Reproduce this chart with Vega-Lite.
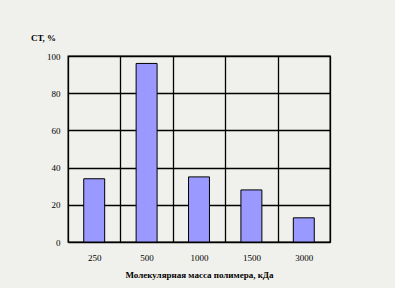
{
  "$schema": "https://vega.github.io/schema/vega-lite/v6.json",
  "autosize": "none",
  "width": 262,
  "height": 186,
  "padding": {"left": 68, "top": 56, "right": 65, "bottom": 46},
  "background": "#f0f1ec",
  "config": {
    "view": {"stroke": "black", "strokeWidth": 1.3},
    "font": "Liberation Serif"
  },
  "data": {
    "values": [
      {"mass": "250", "ct": 34},
      {"mass": "500", "ct": 96},
      {"mass": "1000", "ct": 35},
      {"mass": "1500", "ct": 28},
      {"mass": "3000", "ct": 13}
    ]
  },
  "mark": {"type": "bar", "fill": "#9999ff", "stroke": "black", "strokeWidth": 1, "width": {"band": 0.4}},
  "encoding": {
    "x": {
      "field": "mass",
      "type": "ordinal",
      "sort": null,
      "scale": {"paddingInner": 0, "paddingOuter": 0},
      "axis": {
        "title": "Молекулярная масса полимера, кДа",
        "titleFont": "Liberation Serif",
        "titleFontSize": 9,
        "titleFontWeight": "bold",
        "titleColor": "black",
        "titleBaseline": "middle",
        "titleY": 32,
        "labelAngle": 0,
        "labelFont": "Liberation Serif",
        "labelFontSize": 9,
        "labelColor": "black",
        "labelPadding": 11,
        "ticks": false,
        "domain": false,
        "grid": true,
        "tickBand": "extent",
        "gridColor": "black",
        "gridWidth": 1.3,
        "gridOpacity": 1
      }
    },
    "y": {
      "field": "ct",
      "type": "quantitative",
      "scale": {"domain": [0, 100], "nice": false},
      "axis": {
        "title": "СТ, %",
        "titleAngle": 0,
        "titleFont": "Liberation Serif",
        "titleFontSize": 9,
        "titleFontWeight": "bold",
        "titleColor": "black",
        "titleAlign": "center",
        "titleBaseline": "middle",
        "titleX": -25,
        "titleY": -19,
        "values": [0, 20, 40, 60, 80, 100],
        "labelFont": "Liberation Serif",
        "labelFontSize": 9,
        "labelColor": "black",
        "labelPadding": 8,
        "ticks": false,
        "domain": false,
        "grid": true,
        "gridColor": "black",
        "gridWidth": 1.3,
        "gridOpacity": 1
      }
    }
  }
}
